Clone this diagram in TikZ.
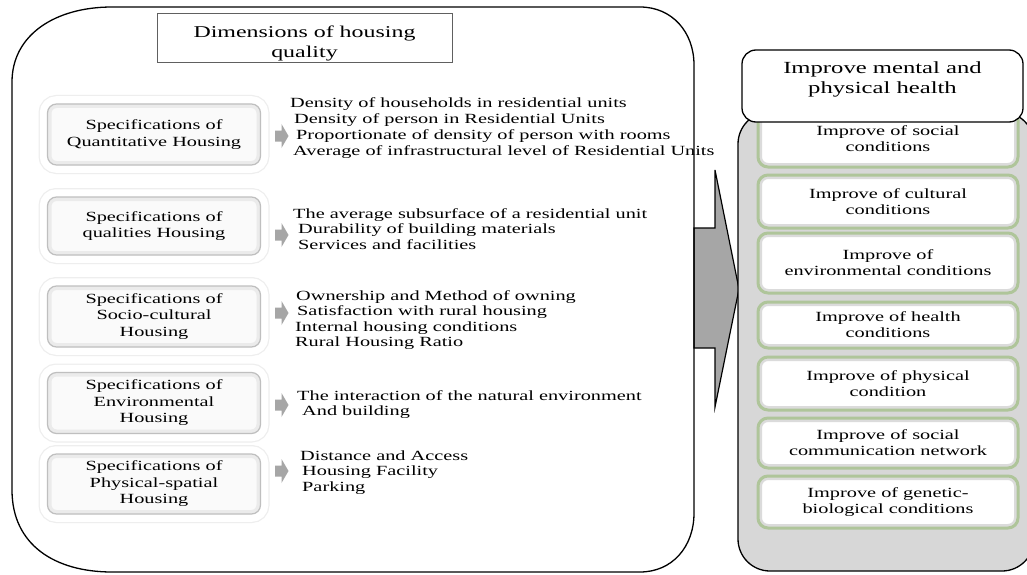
\documentclass[tikz,border=0pt]{standalone}
\usepackage{fontspec}
\setmainfont{Liberation Serif}[FakeStretch=1.45]
\definecolor{panelgray}{HTML}{D7D7D7}
\definecolor{arrowgray}{HTML}{A6A6A6}
\definecolor{greenb}{HTML}{AFC59A}
\tikzset{
  outline/.style={draw=black, line width=1.3pt},
  titlebox/.style={draw=gray!75!black, line width=1pt, fill=white, align=center,
    minimum width=295pt, minimum height=49pt, inner sep=0pt,
    font=\fontsize{16.5}{20}\selectfont},
  specbox/.style={draw=gray!50, line width=1.2pt, fill=gray!4, rounded corners=9pt,
    minimum width=213pt, minimum height=#1, inner sep=0pt, align=center,
    font=\fontsize{14}{16.5}\selectfont,
    preaction={draw=gray!13, line width=18pt},
    preaction={draw=white, line width=15.5pt},
    path picture={\draw[gray!16, line width=8pt] (path picture bounding box.south west) rectangle (path picture bounding box.north east);}},
  listline/.style={anchor=base west, inner sep=0pt, font=\fontsize{14}{16}\selectfont},
  smallarrow/.style={fill=arrowgray, draw=none},
  greenbox/.style={draw=greenb, line width=3pt, fill=white, rounded corners=10pt,
    minimum width=260pt, minimum height=#1, inner sep=0pt, align=center,
    font=\fontsize{14}{16}\selectfont,
    path picture={\draw[gray!28, line width=8pt] (path picture bounding box.south west) rectangle (path picture bounding box.north east);}},
  headbox/.style={draw=black, line width=1.3pt, fill=white, rounded corners=14pt,
    minimum width=281pt, minimum height=72pt, inner sep=0pt, align=center,
    font=\fontsize{17}{20}\selectfont},
}
\newcommand{\smallarr}[2]{%
  \fill[smallarrow] (#1-6.5,#2-5.5) -- ++(6.5,0) -- ++(0,-6.5) -- ++(7,12) -- ++(-7,12) -- ++(0,-6.5) -- ++(-6.5,0) -- cycle;}
\begin{document}
\begin{tikzpicture}[x=1pt,y=-1pt]
\useasboundingbox (0,0) rectangle (1027,575);

% left panel
\path[fill=white] (12,82) .. controls (12,35) and (55,7) .. (112,7) -- (640,7)
  .. controls (672,7) and (694,32) .. (694,65) -- (694,513)
  .. controls (694,547) and (672,572) .. (640,572) -- (112,572)
  .. controls (55,572) and (12,545) .. (12,490) -- cycle;

% big arrow
\draw[fill=arrowgray, line width=1.2pt, line join=miter]
  (694,228) -- (715,228) -- (715,170) -- (739,289) -- (715,407) -- (715,348) -- (694,348) -- cycle;

\draw[outline] (12,82) .. controls (12,35) and (55,7) .. (112,7) -- (640,7)
  .. controls (672,7) and (694,32) .. (694,65) -- (694,513)
  .. controls (694,547) and (672,572) .. (640,572) -- (112,572)
  .. controls (55,572) and (12,545) .. (12,490) -- cycle;

\node[titlebox] (title) at (304.5,38.5) {\rule{0pt}{21pt}Dimensions of housing\\quality};

% specification boxes
\node[specbox=61pt] (s1) at (154,134.5) {Specifications of\\Quantitative Housing};
\node[specbox=58pt] (s2) at (154,226) {Specifications of\\qualities Housing};
\node[specbox=61pt] (s3) at (154,316.5) {Specifications of\\Socio-cultural\\Housing};
\node[specbox=61pt] (s4) at (154,403) {Specifications of\\Environmental\\Housing};
\node[specbox=60pt] (s5) at (154,484) {Specifications of\\Physical-spatial\\Housing};

% small arrows
\smallarr{281.5}{136}
\smallarr{281.5}{235}
\smallarr{281.5}{313}
\smallarr{281.5}{405}
\smallarr{281.5}{471}

% lists
\node[listline] (l11) at (290,108) {Density of households in residential units};
\node[listline] (l12) at (294,123.5) {Density of person in Residential Units};
\node[listline] (l13) at (296,139.5) {Proportionate of density of person with rooms};
\node[listline] (l14) at (293,155) {Average of infrastructural level of Residential Units};

\node[listline] (l21) at (293,218) {The average subsurface of a residential unit};
\node[listline] (l22) at (298,233.5) {Durability of building materials};
\node[listline] (l23) at (298,249) {Services and facilities};

\node[listline] (l31) at (296,300) {Ownership and Method of owning};
\node[listline] (l32) at (297,315.5) {Satisfaction with rural housing};
\node[listline] (l33) at (295,331) {Internal housing conditions};
\node[listline] (l34) at (295,346.5) {Rural Housing Ratio};

\node[listline] (l41) at (297,400) {The interaction of the natural environment};
\node[listline] (l42) at (302,415.5) {And building};

\node[listline] (l51) at (300,460) {Distance and Access};
\node[listline] (l52) at (302,475.5) {Housing Facility};
\node[listline] (l53) at (302,491) {Parking};

% right panel
\draw[outline, fill=panelgray, rounded corners=32pt] (738,112) rectangle (1034,571);

\node[greenbox=57pt] (g1) at (888,138.5) {Improve of social\\conditions};
\node[greenbox=53pt] (g2) at (888,201.5) {Improve of cultural\\conditions};
\node[greenbox=60pt] (g3) at (888,263) {Improve of\\environmental conditions};
\node[greenbox=46pt] (g4) at (888,325) {Improve of health\\conditions};
\node[greenbox=53pt] (g5) at (888,383.5) {Improve of physical\\condition};
\node[greenbox=50pt] (g6) at (888,443) {Improve of social\\communication network};
\node[greenbox=52pt] (g7) at (888,502) {Improve of genetic-\\biological conditions};

\node[headbox] (head) at (882.5,86) {Improve mental and\\physical health\rule[-16pt]{0pt}{0pt}};
\end{tikzpicture}
\end{document}
